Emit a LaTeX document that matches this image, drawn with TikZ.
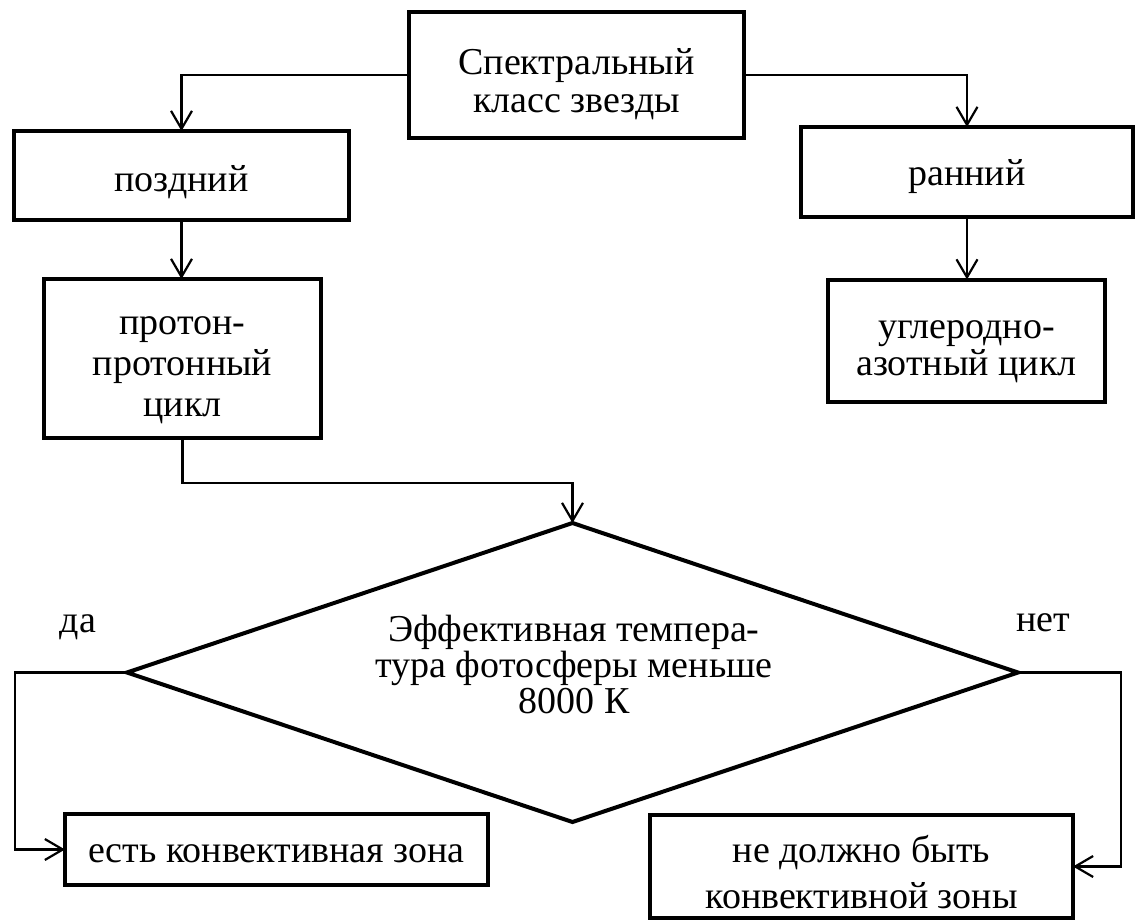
\documentclass[tikz,border=0pt]{standalone}
\usepackage{fontspec}
\setmainfont{Liberation Serif}
\usetikzlibrary{arrows.meta,shapes.geometric}
\begin{document}
\begin{tikzpicture}[x=0.5pt,y=-0.5pt,
  box/.style={draw, line width=2pt, inner sep=0pt, outer sep=0pt},
  txt/.style={inner sep=0pt, align=center, font=\fontsize{19}{#1}\selectfont},
  txt/.default=19.5pt,
  conn/.style={line width=1.1pt, -{Straight Barb[length=9pt,width=10.5pt,line width=1.1pt]}},
  lbl/.style={font=\fontsize{19}{18}\selectfont, inner sep=0pt, align=center}]
\useasboundingbox (0,0) rectangle (1137,922);

\node[box, minimum width=167.5pt, minimum height=63pt,
  label={[txt=19pt, yshift=-4.75pt]center:{Спектральный\\класс звезды}}] (spec) at (576.5,75) {};
\node[box, minimum width=167.5pt, minimum height=44.5pt,
  label={[txt, yshift=-3.5pt]center:{поздний}}] (pozd) at (181.5,175.5) {};
\node[box, minimum width=138.5pt, minimum height=79.5pt,
  label={[txt=20.5pt, yshift=-5.75pt]center:{протон-\\протонный\\цикл}}] (proton) at (182.5,358.5) {};
\node[box, minimum width=166pt, minimum height=45pt,
  label={[txt, yshift=-2.5pt]center:{ранний}}] (rann) at (967,172) {};
\node[box, minimum width=138.5pt, minimum height=61pt,
  label={[txt=18.5pt, yshift=-5.5pt]center:{углеродно-\\азотный цикл}}] (ugl) at (966.5,340.5) {};
\node[box, minimum width=211.5pt, minimum height=35.5pt,
  label={[txt, yshift=-2pt]center:{есть конвективная зона}}] (est) at (276.5,849.5) {};
\node[box, minimum width=211.5pt, minimum height=51.5pt,
  label={[txt=23pt, yshift=-3pt]center:{не должно быть\\конвективной зоны}}] (ne) at (861.5,866.5) {};

\node[draw, diamond, line width=2pt, minimum width=445.5pt, minimum height=149.5pt, inner sep=0pt, outer sep=0pt] (dia) at (572.5,672.5) {};
\node[lbl] (diatext) at (574,664) {Эффективная темпера-\\тура фотосферы меньше\\8000 К};

\node[lbl] (da) at (78,627) {да};
\node[lbl] (net) at (1043,623) {нет};

\coordinate (j) at (0,483);
\coordinate (l) at (15,0);
\coordinate (r) at (1121,0);

\draw[conn] (spec.west) -| (pozd.north);
\draw[conn] (pozd.south) -- (pozd.south |- proton.north);
\draw[conn] (spec.east) -| (rann.north);
\draw[conn] (rann.south) -- (rann.south |- ugl.north);
\draw[conn] (proton.south) -- (proton.south |- j) -| (dia.north);
\draw[conn] (dia.west) -- (dia.west -| l) |- (est.west);
\draw[conn] (dia.east) -- (dia.east -| r) |- (ne.east);
\end{tikzpicture}
\end{document}
